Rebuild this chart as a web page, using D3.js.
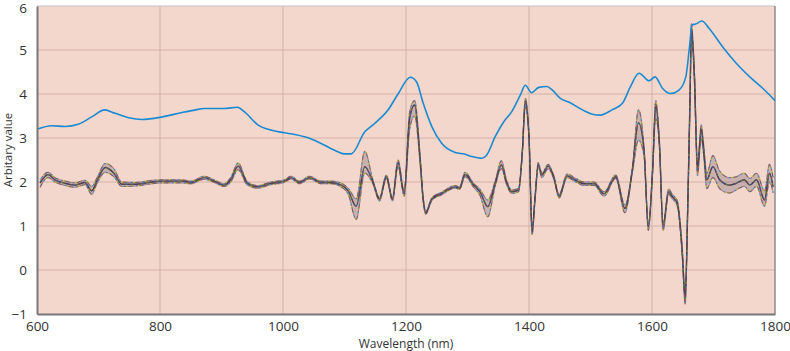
<!DOCTYPE html>
<html>
<head>
<meta charset="utf-8">
<script src="https://cdn.jsdelivr.net/npm/d3@7"></script>
<style>
  body { margin: 0; background: #fff; }
  svg { display: block; }
  text { font-family: "Open Sans", "Lato", sans-serif; fill: #333; }
</style>
</head>
<body>
<svg id="chart" width="790" height="351"></svg>
<script>
// ---- data ----
const xTicks = [600, 800, 1000, 1200, 1400, 1600, 1800];
const yTicks = [-1, 0, 1, 2, 3, 4, 5, 6];

const blueWl  = [600, 624, 646, 667, 689, 710, 727, 749, 771, 804, 836, 858, 872, 904, 926, 937, 959, 980, 1002, 1019, 1046, 1067, 1089, 1100, 1111, 1133, 1149, 1171, 1187, 1207, 1217, 1228, 1242, 1258, 1280, 1296, 1307, 1323, 1331, 1345, 1359, 1372, 1386, 1394, 1404, 1416, 1429, 1438, 1451, 1467, 1487, 1503, 1516, 1535, 1552, 1565, 1579, 1584, 1595, 1605, 1617, 1630, 1644, 1655, 1661, 1665, 1671, 1681, 1693, 1715, 1737, 1759, 1780, 1800];
const blueVal = [3.20, 3.28, 3.26, 3.31, 3.48, 3.64, 3.56, 3.46, 3.42, 3.48, 3.58, 3.64, 3.67, 3.67, 3.70, 3.60, 3.30, 3.18, 3.12, 3.08, 2.98, 2.84, 2.69, 2.64, 2.64, 3.14, 3.33, 3.64, 4.00, 4.38, 4.28, 3.79, 3.26, 2.88, 2.67, 2.63, 2.58, 2.54, 2.61, 3.03, 3.37, 3.60, 3.98, 4.20, 4.03, 4.15, 4.17, 4.09, 3.90, 3.80, 3.64, 3.54, 3.52, 3.64, 3.79, 4.17, 4.47, 4.43, 4.30, 4.39, 4.13, 4.01, 4.09, 4.39, 5.08, 5.57, 5.59, 5.66, 5.49, 5.07, 4.70, 4.39, 4.13, 3.85];

const specWl = [605, 618, 629, 646, 662, 678, 689, 697, 711, 725, 738, 760, 782, 804, 836, 850, 872, 888, 904, 915, 927, 942, 959, 980, 1002, 1013, 1027, 1043, 1062, 1078, 1095, 1106, 1119, 1133, 1146, 1157, 1168, 1178, 1187, 1197, 1206, 1214, 1223, 1228, 1232, 1242, 1258, 1280, 1287, 1296, 1310, 1320, 1333, 1345, 1355, 1364, 1372, 1383, 1389, 1394, 1400, 1405, 1410, 1415, 1421, 1431, 1440, 1449, 1462, 1476, 1490, 1506, 1522, 1541, 1556, 1568, 1578, 1587, 1594, 1601, 1606, 1612, 1618, 1627, 1633, 1641, 1649, 1654, 1658, 1662, 1664, 1669, 1674, 1680, 1684, 1689, 1699, 1710, 1726, 1737, 1750, 1759, 1770, 1783, 1791, 1797];
const specMean = [1.98, 2.17, 2.05, 1.97, 1.93, 1.99, 1.80, 2.01, 2.33, 2.20, 1.95, 1.95, 1.99, 2.02, 2.02, 1.99, 2.10, 2.02, 1.93, 2.05, 2.36, 1.97, 1.89, 1.97, 2.02, 2.10, 1.99, 2.10, 1.99, 1.99, 1.93, 1.80, 1.45, 2.35, 2.01, 1.61, 2.12, 1.61, 2.44, 1.74, 3.45, 3.75, 2.50, 1.60, 1.30, 1.61, 1.74, 1.89, 1.86, 2.17, 1.93, 1.78, 1.44, 1.97, 2.39, 1.97, 1.78, 1.82, 2.65, 3.83, 3.03, 0.87, 1.67, 2.39, 2.16, 2.36, 2.12, 1.68, 2.14, 2.04, 1.96, 1.96, 1.73, 2.12, 1.40, 2.27, 3.35, 2.73, 0.98, 2.27, 3.75, 2.88, 0.98, 1.78, 1.67, 1.52, 0.45, -0.68, 1.36, 4.01, 5.50, 4.39, 2.27, 3.20, 2.73, 2.05, 2.35, 2.05, 1.93, 1.97, 2.05, 1.93, 2.05, 1.59, 2.20, 1.89];
const specUpper = [2.05, 2.22, 2.10, 2.02, 1.98, 2.04, 1.90, 2.08, 2.42, 2.30, 2.00, 1.99, 2.03, 2.05, 2.05, 2.02, 2.13, 2.05, 1.96, 2.10, 2.43, 2.01, 1.92, 2.00, 2.05, 2.13, 2.02, 2.13, 2.02, 2.02, 1.97, 1.86, 1.62, 2.70, 2.06, 1.65, 2.16, 1.65, 2.50, 1.80, 3.60, 3.85, 2.60, 1.65, 1.33, 1.64, 1.77, 1.92, 1.89, 2.22, 1.97, 1.84, 1.59, 2.02, 2.48, 2.02, 1.82, 1.86, 2.70, 3.90, 3.08, 0.95, 1.72, 2.44, 2.20, 2.40, 2.16, 1.72, 2.18, 2.08, 2.00, 2.00, 1.78, 2.16, 1.48, 2.32, 3.64, 2.80, 1.05, 2.35, 3.85, 2.95, 1.05, 1.84, 1.72, 1.58, 0.55, -0.55, 1.45, 4.10, 5.60, 4.50, 2.40, 3.30, 2.85, 2.20, 2.60, 2.25, 2.10, 2.12, 2.20, 2.08, 2.20, 1.80, 2.40, 2.10];
const specLower = [1.88, 2.10, 2.00, 1.92, 1.88, 1.94, 1.72, 1.95, 2.22, 2.12, 1.90, 1.91, 1.95, 1.98, 1.98, 1.96, 2.06, 1.99, 1.90, 2.00, 2.28, 1.93, 1.86, 1.94, 1.99, 2.07, 1.96, 2.07, 1.96, 1.96, 1.88, 1.72, 1.15, 2.20, 1.96, 1.57, 2.08, 1.57, 2.35, 1.68, 3.20, 3.50, 2.40, 1.55, 1.27, 1.58, 1.71, 1.86, 1.83, 2.12, 1.88, 1.70, 1.21, 1.90, 2.30, 1.92, 1.74, 1.78, 2.60, 3.70, 2.98, 0.80, 1.62, 2.34, 2.10, 2.30, 2.08, 1.64, 2.10, 2.00, 1.92, 1.92, 1.68, 2.08, 1.30, 2.20, 2.95, 2.60, 0.90, 2.20, 3.45, 2.80, 0.90, 1.72, 1.62, 1.46, 0.35, -0.78, 1.25, 3.90, 5.35, 4.25, 2.15, 3.00, 2.60, 1.85, 2.10, 1.85, 1.75, 1.82, 1.90, 1.78, 1.90, 1.45, 2.00, 1.75];

const bandColors = ["#c0392b", "#5b8f3a", "#d4b431", "#6a4c93", "#2aa6b8", "#d46a9a", "#8a6d3b", "#3b5998"];

// ---- layout ----
const W = 790, H = 351;
const m = { left: 37, right: 15, top: 6, bottom: 37 };
const svg = d3.select("#chart");
const x = d3.scaleLinear().domain([600, 1800]).range([m.left, W - m.right]);
const y = d3.scaleLinear().domain([-1, 6]).range([H - m.bottom, m.top]);

// background
svg.append("rect")
  .attr("x", x(600)).attr("y", y(6))
  .attr("width", x(1800) - x(600)).attr("height", y(-1) - y(6))
  .attr("fill", "#f3d7cc");

// grid
const grid = svg.append("g");
grid.selectAll("line.h").data(yTicks.filter(d => d > -1 && d < 6)).join("line")
  .attr("x1", x(600)).attr("x2", x(1800))
  .attr("y1", d => y(d)).attr("y2", d => y(d))
  .attr("stroke", "#d6b2a6").attr("stroke-width", 1);
grid.selectAll("line.v").data(xTicks.filter(d => d > 600 && d < 1800)).join("line")
  .attr("y1", y(-1)).attr("y2", y(6))
  .attr("x1", d => x(d)).attr("x2", d => x(d))
  .attr("stroke", "#d0b1a7").attr("stroke-width", 1);

// frame top / right
svg.append("line").attr("x1", x(600)).attr("x2", x(1800)).attr("y1", y(6)).attr("y2", y(6))
  .attr("stroke", "#c2c2c2").attr("stroke-width", 1.2);
svg.append("line").attr("x1", x(1800)).attr("x2", x(1800)).attr("y1", y(6)).attr("y2", y(-1))
  .attr("stroke", "#8c8c8c").attr("stroke-width", 1.5);

// lines
const line = (wl) => d3.line()
  .x((d, i) => x(wl[i]))
  .y(d => y(d))
  .curve(d3.curveMonotoneX);

const specLine = line(specWl);
const band = svg.append("g").attr("fill", "none");

// spread of the many spectra
const area = d3.area()
  .x((d, i) => x(specWl[i]))
  .y0((d, i) => y(specLower[i]))
  .y1((d, i) => y(specUpper[i]))
  .curve(d3.curveMonotoneX);
band.append("path").attr("d", area(specMean))
  .attr("fill", "#5d4f62").attr("opacity", 0.28).attr("stroke", "none");

[specLower, specUpper].forEach((arr, k) => {
  bandColors.forEach((c, i) => {
    band.append("path").attr("d", specLine(arr))
      .attr("stroke", c).attr("stroke-width", 1.1)
      .attr("stroke-dasharray", "2,10")
      .attr("stroke-dashoffset", i * 1.5 + k * 5)
      .attr("opacity", 0.85);
  });
});
band.append("path").attr("d", specLine(specMean))
  .attr("stroke", "#35354a").attr("stroke-width", 1.4);
bandColors.forEach((c, i) => {
  band.append("path").attr("d", specLine(specMean))
    .attr("stroke", c).attr("stroke-width", 0.9)
    .attr("stroke-dasharray", "2,14")
    .attr("stroke-dashoffset", i * 2 + 1)
    .attr("opacity", 0.6);
});

svg.append("path").attr("d", line(blueWl)(blueVal))
  .attr("fill", "none").attr("stroke", "#1a8ad2").attr("stroke-width", 1.6);

// axes
const xAxis = d3.axisBottom(x).tickValues(xTicks).tickSize(0).tickPadding(7).tickFormat(d3.format("d"));
const yAxis = d3.axisLeft(y).tickValues(yTicks).tickSize(0).tickPadding(10).tickFormat(d3.format("d"));
const gx = svg.append("g").attr("transform", `translate(0,${y(-1)})`).call(xAxis);
const gy = svg.append("g").attr("transform", `translate(${x(600)},0)`).call(yAxis);
[gx, gy].forEach(g => {
  g.select(".domain").attr("stroke", "#777").attr("stroke-width", 2);
  g.selectAll("text").attr("font-size", 13.5).attr("fill", "#333")
    .attr("font-family", "'Open Sans', Lato, sans-serif");
});
gy.selectAll(".tick text").attr("dy", "0.35em");
gy.selectAll(".tick").filter(d => d === 6).select("text").attr("dy", "0.5em");

// titles
svg.append("text").attr("x", (x(600) + x(1800)) / 2).attr("y", 348)
  .attr("text-anchor", "middle").attr("font-size", 12).text("Wavelength (nm)");
svg.append("text").attr("transform", `translate(12,150) rotate(-90)`)
  .attr("text-anchor", "middle").attr("font-size", 11.5).text("Arbitary value");
</script>
</body>
</html>
